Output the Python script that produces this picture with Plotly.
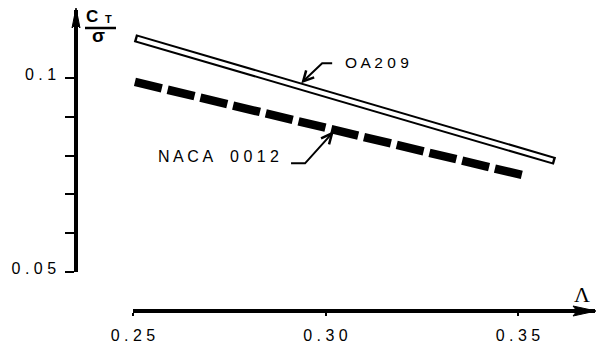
import numpy as np
import plotly.graph_objects as go

# ---- data ----
oa209_x = [0.2505, 0.3596]
oa209_y = [0.1103, 0.0786]
naca_x = [0.2505, 0.351]
naca_y = [0.0990, 0.0750]
x_ticks = [0.25, 0.30, 0.35]
x_ticklabels = ["0 . 2 5", "0 . 3 0", "0 . 3 5"]
y_ticks = [0.05, 0.06, 0.07, 0.08, 0.09, 0.10]
y_ticklabels = ["0 . 0 5", "", "", "", "", "0 . 1"]

W, H = 597, 345
# layout geometry (pixels)
X_L, X_R = 133, 595      # x axis line extent
Y_B, Y_T = 272, 10       # y axis line extent
X_AX_Y = 311             # pixel row of x axis
Y_AX_X = 76              # pixel column of y axis
XR = [0.25, 0.37]
YR = [0.05, 0.05 + (Y_B - Y_T) / 3880]

FONT = "Liberation Sans, Arial, sans-serif"


def to_px(x, y):
    px = X_L + (x - XR[0]) / (XR[1] - XR[0]) * (X_R - X_L)
    py = Y_B - (y - YR[0]) / (YR[1] - YR[0]) * (Y_B - Y_T)
    return px, py


def pp(px, py):
    return f"{px / W:.5f},{1 - py / H:.5f}"


def path(points):
    return "M" + " L".join(pp(a, b) for a, b in points)


fig = go.Figure()

# OA209: hollow bar (black outline with white core)
fig.add_trace(go.Scatter(x=oa209_x, y=oa209_y, mode="lines",
                         line=dict(color="black", width=8), hoverinfo="skip"))
d = 0.0006
inner_x = [oa209_x[0] + d, oa209_x[1] - d]
inner_y = list(np.interp(inner_x, oa209_x, oa209_y))
fig.add_trace(go.Scatter(x=inner_x, y=inner_y, mode="lines",
                         line=dict(color="white", width=4), hoverinfo="skip"))

# NACA 0012: heavy dashed line, 12 dashes ending cleanly
p0 = to_px(naca_x[0], naca_y[0])
p1 = to_px(naca_x[1], naca_y[1])
L = float(np.hypot(p1[0] - p0[0], p1[1] - p0[1]))
gap = 6.0
n_dash = 12
dash_len = (L + gap) / n_dash - gap
fig.add_trace(go.Scatter(x=naca_x, y=naca_y, mode="lines",
                         line=dict(color="black", width=8.5,
                                   dash=f"{dash_len:.2f}px,{gap:.2f}px"),
                         hoverinfo="skip"))

# axis arrowheads, drawn on a full-figure pixel overlay
arrow_y_x = [Y_AX_X, Y_AX_X + 4, Y_AX_X, Y_AX_X - 4, Y_AX_X]
arrow_y_y = [Y_T - 2, Y_T + 18, Y_T + 14, Y_T + 18, Y_T - 2]
arrow_x_x = [X_R + 1, X_R - 22, X_R - 18, X_R - 22, X_R + 1]
arrow_x_y = [X_AX_Y, X_AX_Y - 5, X_AX_Y, X_AX_Y + 5, X_AX_Y]
for ax_, ay_ in [(arrow_y_x, arrow_y_y), (arrow_x_x, arrow_x_y)]:
    fig.add_trace(go.Scatter(x=ax_, y=ay_, xaxis="x2", yaxis="y2", mode="lines",
                             fill="toself", fillcolor="black",
                             line=dict(color="black", width=1), hoverinfo="skip"))

shapes = []
# leader for OA209
tx = 0.2942
tpx, tpy = to_px(tx, float(np.interp(tx, oa209_x, oa209_y)))
tpy -= 6
shapes.append(dict(type="path", xref="paper", yref="paper",
                   path=path([(tpx + 29, tpy - 18), (tpx + 19, tpy - 18), (tpx, tpy)]),
                   line=dict(color="black", width=2)))
shapes.append(dict(type="path", xref="paper", yref="paper",
                   path=path([(tpx + 3, tpy - 11), (tpx, tpy), (tpx + 11, tpy - 4)]),
                   line=dict(color="black", width=2.5)))

# leader for NACA 0012
nx = 0.3017
npx, npy = to_px(nx, float(np.interp(nx, naca_x, naca_y)))
npy += 4
shapes.append(dict(type="path", xref="paper", yref="paper",
                   path=path([(npx - 41, npy + 30), (npx - 27, npy + 30), (npx, npy)]),
                   line=dict(color="black", width=2)))
shapes.append(dict(type="path", xref="paper", yref="paper",
                   path=path([(npx - 3, npy + 11), (npx, npy), (npx - 11, npy + 5)]),
                   line=dict(color="black", width=2.5)))

# fraction bar of Ct / sigma
shapes.append(dict(type="line", xref="paper", yref="paper",
                   x0=85 / W, x1=116 / W, y0=1 - 28 / H, y1=1 - 28 / H,
                   line=dict(color="black", width=2.5)))


def ann(text, px, py, size, family=FONT, xanchor="center", yanchor="middle"):
    return dict(text=text, x=px / W, y=1 - py / H, xref="paper", yref="paper",
                xanchor=xanchor, yanchor=yanchor, showarrow=False,
                font=dict(family=family, size=size, color="black"))


annotations = [
    ann("<b>C</b>", 92, 17, 17),
    ann("<b>T</b>", 108, 19, 11),
    ann("<b>σ</b>", 98, 35, 19),
    ann("Λ", 582, 294, 22, family="Liberation Serif, serif"),
    ann("O A 2 0 9", tpx + 40, tpy - 19, 15.5, xanchor="left"),
    ann("N A C A    0 0 1 2", npx - 51, npy + 23, 16, xanchor="right"),
]

fig.update_layout(
    template="none",
    width=W, height=H, autosize=False,
    margin=dict(l=0, r=0, t=0, b=0, pad=0),
    paper_bgcolor="white", plot_bgcolor="rgba(0,0,0,0)",
    showlegend=False,
    shapes=shapes, annotations=annotations,
    xaxis=dict(domain=[X_L / W, X_R / W], range=XR, anchor="free",
               position=1 - X_AX_Y / H, showline=True, linecolor="black",
               linewidth=3.5, ticks="outside", ticklen=3, tickwidth=2,
               tickcolor="black", tickvals=x_ticks, ticktext=x_ticklabels,
               showgrid=False, zeroline=False, automargin=False,
               ticklabelstandoff=6,
               tickfont=dict(family=FONT, size=16, color="black")),
    yaxis=dict(domain=[1 - Y_B / H, 1 - Y_T / H], range=YR, anchor="free",
               position=Y_AX_X / W, showline=True, linecolor="black",
               linewidth=3.5, ticks="outside", ticklen=9, tickwidth=2,
               tickcolor="black", tickvals=y_ticks, ticktext=y_ticklabels,
               showgrid=False, zeroline=False, automargin=False,
               ticklabelstandoff=6, ticklabelshift=-4,
               tickfont=dict(family=FONT, size=16, color="black")),
    xaxis2=dict(domain=[0, 1], range=[0, W], visible=False, anchor="y2",
                fixedrange=True),
    yaxis2=dict(domain=[0, 1], range=[H, 0], visible=False, anchor="x2",
                fixedrange=True),
)

fig.write_html("out.html")
